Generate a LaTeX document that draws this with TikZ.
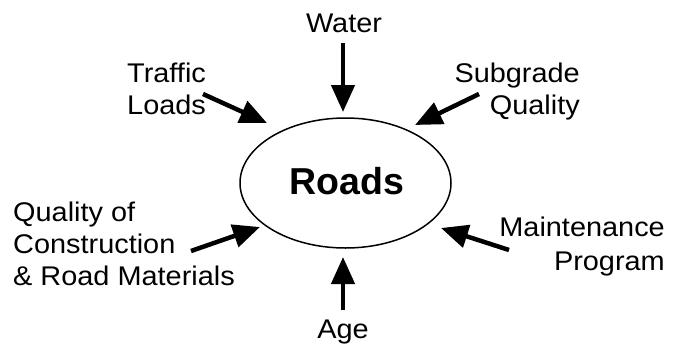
\documentclass[tikz,border=0pt]{standalone}
\usepackage{fontspec}
\setmainfont{Liberation Sans}
\newfontfamily\labfont{Liberation Sans}[FakeStretch=1.07]
\usetikzlibrary{arrows.meta,shapes.geometric}
\begin{document}
\begin{tikzpicture}[x=1pt,y=-1pt,
  lbl/.style={font=\labfont\fontsize{27}{32}\selectfont, inner sep=0pt},
  infl/.style={line width=4.5pt, -{Triangle[length=27pt,width=23pt]}},
  ]
\useasboundingbox (0,0) rectangle (682,343);
\node[draw, ellipse, line width=1.5pt, minimum width=211pt, minimum height=130pt, inner sep=0pt] (roads) at (345.5,183) {};
\node[font=\bfseries\fontsize{37.5}{40}\selectfont, inner sep=0pt, anchor=base] (roadstxt) at (347,194) {Roads};
\node[lbl, anchor=base] (water) at (344,32) {Water};
\node[lbl, anchor=base west, align=left] (traffic) at (127,114) {Traffic\\Loads};
\node[lbl, anchor=base east, align=right] (subgrade) at (580,114) {Subgrade\\Quality};
\node[lbl, font=\labfont\fontsize{27}{34}\selectfont, anchor=base east, align=right] (maint) at (665,270) {Maintenance\\Program};
\node[lbl, anchor=base west, align=left] (constr) at (13,285) {Quality of\\Construction\\\& Road Materials};
\node[lbl, anchor=base] (age) at (343,338) {Age};
\coordinate (wT) at (343,43);  \coordinate (wH) at (343,112);
\coordinate (tT) at (203,94);  \coordinate (tH) at (267,123);
\coordinate (sT) at (479,94);  \coordinate (sH) at (415,125);
\coordinate (cT) at (191,251); \coordinate (cH) at (260,227);
\coordinate (mT) at (509,250); \coordinate (mH) at (441,228);
\coordinate (aT) at (343,310); \coordinate (aH) at (343,257);
\draw[infl] (wT) -- (wH);
\draw[infl] (tT) -- (tH);
\draw[infl] (sT) -- (sH);
\draw[infl] (cT) -- (cH);
\draw[infl] (mT) -- (mH);
\draw[infl] (aT) -- (aH);
\end{tikzpicture}
\end{document}
